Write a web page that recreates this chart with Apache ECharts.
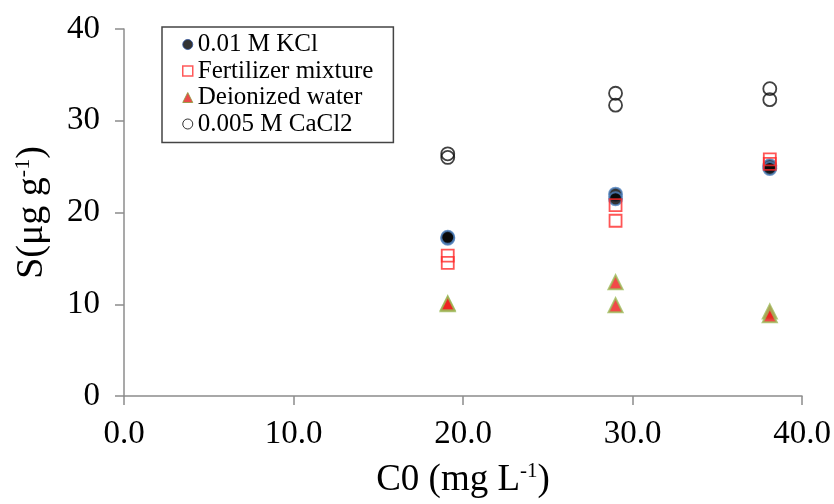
<!DOCTYPE html>
<html><head><meta charset="utf-8">
<script src="https://cdn.jsdelivr.net/npm/echarts@6/dist/echarts.min.js"></script>
<style>html,body{margin:0;padding:0;background:#fff}#c{width:834px;height:504px}</style>
</head><body><div id="c"></div>
<script>
const seriesNames = ['0.01 M KCl', 'Fertilizer mixture', 'Deionized water', '0.005 M CaCl2'];
const kcl = [[19.1, 17.2], [19.1, 17.3], [29.0, 22.0], [29.0, 21.5], [38.1, 25.1], [38.1, 24.8]];
const fertilizer = [[19.1, 15.3], [19.1, 14.5], [29.0, 20.8], [29.0, 19.1], [38.1, 25.8], [38.1, 25.3]];
const water = [[19.1, 10.0], [19.1, 10.1], [29.0, 12.4], [29.0, 9.9], [38.1, 9.2], [38.1, 8.8]];
const cacl2 = [[19.1, 26.4], [19.1, 26.0], [29.0, 33.0], [29.0, 31.7], [38.1, 33.5], [38.1, 32.3]];
const xTicks = [0, 10, 20, 30, 40];
const yTicks = [0, 10, 20, 30, 40];

const FONT = '"Liberation Serif","Times New Roman",serif';
const chart = echarts.init(document.getElementById('c'));
chart.setOption({
  animation: false,
  backgroundColor: '#fff',
  grid: { left: 124, right: 32, top: 29, bottom: 106 },
  legend: {
    orient: 'vertical', left: 162, top: 27,
    padding: [5, 20, 6, 20], itemGap: 1.5,
    borderColor: '#444', borderWidth: 1.5, backgroundColor: '#fff',
    itemWidth: 10, itemHeight: 10,
    textStyle: { fontFamily: FONT, fontSize: 25, color: '#000', padding: [0, 0, 0, 0] },
    data: [
      { name: seriesNames[0], icon: 'circle', itemStyle: { color: '#000', borderColor: '#2a4f9a', borderWidth: 1 } },
      { name: seriesNames[1], icon: 'rect', itemStyle: { color: '#fff', borderColor: '#ff3030', borderWidth: 1.5 } },
      { name: seriesNames[2], icon: 'triangle', itemStyle: { color: '#e51e1e', borderColor: '#8a9a3a', borderWidth: 1 } },
      { name: seriesNames[3], icon: 'circle', itemStyle: { color: '#fff', borderColor: '#000', borderWidth: 1 } }
    ]
  },
  xAxis: {
    type: 'value', min: 0, max: 40, interval: 10,
    name: 'C0 (mg L{sup|-1})', nameLocation: 'middle', nameGap: 65,
    nameTextStyle: { fontFamily: FONT, fontSize: 37, color: '#000',
      rich: { sup: { fontFamily: FONT, fontSize: 21, padding: [0, 0, 18, 0], color: '#000' } } },
    axisLine: { show: true, lineStyle: { color: '#8c8c8c', width: 1.5 } },
    axisTick: { show: true, length: 9, lineStyle: { color: '#8c8c8c', width: 1.5 } },
    axisLabel: { fontFamily: FONT, fontSize: 33, color: '#000', margin: 22,
      formatter: v => xTicks.includes(v) ? v.toFixed(1) : '' },
    splitLine: { show: false }
  },
  yAxis: {
    type: 'value', min: 0, max: 40, interval: 10,
    name: 'S(μg g{sup|-1})', nameLocation: 'middle', nameGap: 72, nameRotate: 90,
    nameTextStyle: { fontFamily: FONT, fontSize: 38, color: '#000',
      rich: { sup: { fontFamily: FONT, fontSize: 22, padding: [0, 0, 18, 0], color: '#000' } } },
    axisLine: { show: true, lineStyle: { color: '#8c8c8c', width: 1.5 } },
    axisTick: { show: true, length: 9, lineStyle: { color: '#8c8c8c', width: 1.5 } },
    axisLabel: { fontFamily: FONT, fontSize: 33, color: '#000', margin: 24,
      formatter: v => yTicks.includes(v) ? String(v) : '' },
    splitLine: { show: false }
  },
  series: [
    { name: seriesNames[0], type: 'scatter', data: kcl, symbol: 'circle', symbolSize: 13, z: 3,
      itemStyle: { color: '#000', borderColor: '#4f81bd', borderWidth: 2 } },
    { name: seriesNames[1], type: 'scatter', data: fertilizer, symbol: 'rect', symbolSize: 12, z: 4,
      itemStyle: { color: 'rgba(255,255,255,0)', borderColor: '#ff2a2a', borderWidth: 1.8 } },
    { name: seriesNames[2], type: 'scatter', data: water, symbol: 'triangle', symbolSize: 14, z: 2,
      itemStyle: { color: '#ee1c1c', borderColor: '#9bbb59', borderWidth: 2 } },
    { name: seriesNames[3], type: 'scatter', data: cacl2, symbol: 'circle', symbolSize: 13, z: 2,
      itemStyle: { color: 'rgba(255,255,255,0)', borderColor: '#111', borderWidth: 1.8 } }
  ]
});
</script></body></html>
